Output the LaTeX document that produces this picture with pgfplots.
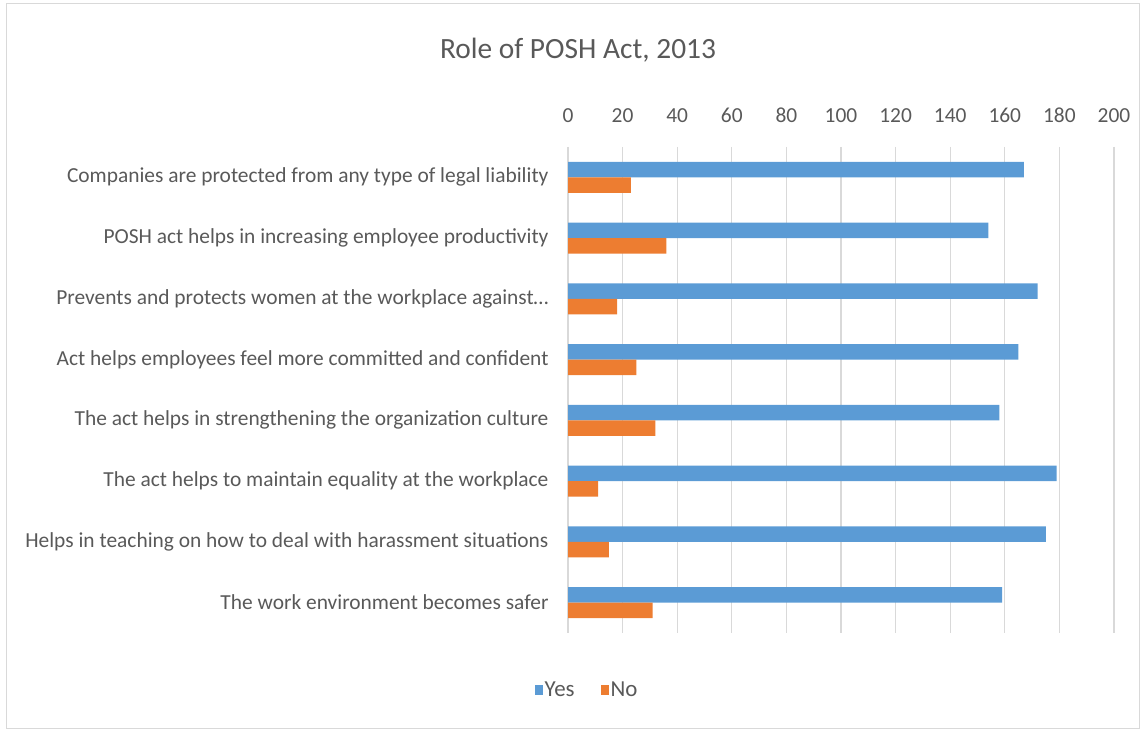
\documentclass[border=0pt]{standalone}
\usepackage{pgfplots}
\pgfplotsset{compat=1.18}
\usepackage{fontspec}
\setmainfont{Carlito}
\definecolor{ybl}{HTML}{5B9BD5}
\definecolor{nor}{HTML}{ED7D31}
\definecolor{txt}{HTML}{595959}
\definecolor{grd}{HTML}{D9D9D9}
\begin{document}
\begin{tikzpicture}[x=1bp,y=1bp]
\path (0,0) rectangle (1146,732);
\draw[grd, line width=1bp] (6,3) rectangle (1139,728);
\node[text=txt, font=\fontsize{29.5}{32}\selectfont] at (578,682) {Role of POSH Act, 2013};
\begin{axis}[
  at={(568bp,99bp)}, anchor=south west,
  scale only axis, width=546bp, height=486bp,
  xbar=0pt, bar width=15.5bp,
  xmin=0, xmax=200, ymin=-0.5, ymax=7.5,
  y dir=reverse,
  enlargelimits=false,
  xtick={0,20,...,200},
  xticklabel pos=upper,
  ytick={0,...,7},
  yticklabels={
    Companies are protected from any type of legal liability,
    POSH act helps in increasing employee productivity,
    Prevents and protects women at the workplace against…,
    Act helps employees feel more committed and confident,
    The act helps in strengthening the organization culture,
    The act helps to maintain equality at the workplace,
    Helps in teaching on how to deal with harassment situations,
    The work environment becomes safer},
  major tick length=0pt,
  axis line style={draw=none},
  xmajorgrids, grid style={grd, line width=1.2bp},
  /pgf/number format/assume math mode=true,
  xticklabel style={text=txt, font=\fontsize{21.5}{23}\selectfont, yshift=21bp},
  yticklabel style={text=txt, font=\fontsize{21.5}{23}\selectfont, xshift=-16bp},
  legend style={at={(0.035,-0.117)}, anchor=center, draw=none, legend columns=2,
    font=\fontsize{23}{25}\selectfont, text=txt,
    /tikz/every even column/.append style={column sep=24bp}},
  legend image code/.code={\fill[#1,draw=none] (0bp,-5bp) rectangle (8bp,5bp);},
]
\addplot[fill=ybl, draw=none, bar shift=7.75bp] coordinates {(167,0) (154,1) (172,2) (165,3) (158,4) (179,5) (175,6) (159,7)};
\addplot[fill=nor, draw=none, bar shift=-7.75bp] coordinates {(23,0) (36,1) (18,2) (25,3) (32,4) (11,5) (15,6) (31,7)};
\legend{Yes, No}
\end{axis}
\end{tikzpicture}
\end{document}
